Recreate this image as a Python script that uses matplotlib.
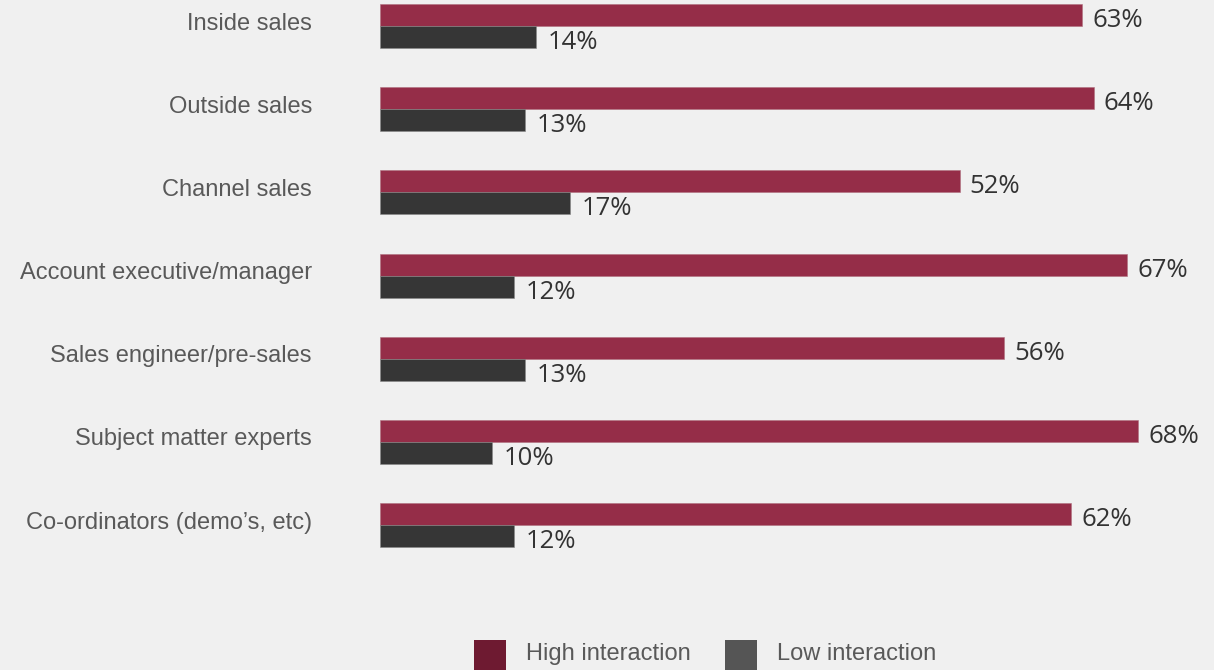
import matplotlib
matplotlib.use("Agg")
import matplotlib.pyplot as plt
from matplotlib.patches import Rectangle
from matplotlib.transforms import blended_transform_factory
import numpy as np

categories = ["Inside sales", "Outside sales", "Channel sales", "Account executive/manager",
              "Sales engineer/pre-sales", "Subject matter experts", "Co-ordinators (demo\u2019s, etc)"]
high = [63, 64, 52, 67, 56, 68, 62]
low = [14, 13, 17, 12, 13, 10, 12]
series_names = ["High interaction", "Low interaction"]

W, H = 1214, 670
BG = "#F0F0F0"
RED = "#952D48"
DARK = "#363636"
LEG_RED = "#6E1A31"
LEG_DARK = "#555555"
TXT = "#595959"

fig = plt.figure(figsize=(W / 100, H / 100), dpi=100, facecolor=BG)
ax = fig.add_axes([380 / W, 0, 834 / W, 1])
ax.set_facecolor(BG)
for s in ax.spines.values():
    s.set_visible(False)
ax.set_xticks([])
ax.set_yticks([])

px_per_unit = 11.15
row = 83.1
ax.set_xlim(0, 834 / px_per_unit)
ax.set_ylim((H - 26.3) / row, -26.3 / row)

y = np.arange(len(categories))
bh = 22 / row
ax.barh(y - bh / 2, high, height=bh, color=RED, edgecolor="#b07080", linewidth=0.4)
ax.barh(y + bh / 2, low, height=bh, color=DARK, edgecolor="#888888", linewidth=0.4)

for i in range(len(categories)):
    ax.annotate(f"{high[i]}%", xy=(high[i], y[i]), xytext=(10, -1), textcoords="offset pixels",
                ha="left", va="baseline", fontsize=18.5, family="Open Sans", color="#333333")
    ax.annotate(f"{low[i]}%", xy=(low[i], y[i]), xytext=(12, -23), textcoords="offset pixels",
                ha="left", va="baseline", fontsize=18.5, family="Open Sans", color="#333333")

tr = blended_transform_factory(fig.transFigure, ax.transData)
for i, c in enumerate(categories):
    ax.text(312 / W, y[i] + 3.7 / row, c, transform=tr, ha="right", va="baseline",
            fontsize=17, family="Liberation Sans", color=TXT)

# legend
for x0, col, tx, name in [(474, LEG_RED, 526, series_names[0]), (725, LEG_DARK, 777, series_names[1])]:
    fig.add_artist(Rectangle((x0 / W, 0), 32 / W, 30 / H, transform=fig.transFigure,
                             facecolor=col, edgecolor="none"))
    fig.text(tx / W, (H - 660) / H, name, ha="left", va="baseline", fontsize=17,
             family="Liberation Sans", color=TXT)

fig.savefig("out.png", dpi=100, facecolor=BG)
